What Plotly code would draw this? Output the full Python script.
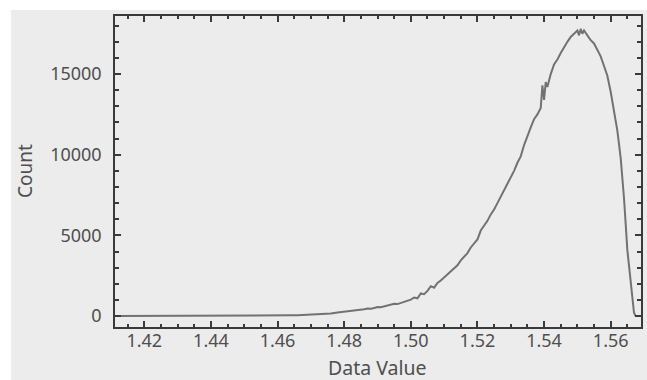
import plotly.graph_objects as go

data_value = [1.4112, 1.420, 1.430, 1.440, 1.450, 1.455, 1.458, 1.460, 1.462, 1.464, 1.466, 1.468,
              1.470, 1.472, 1.474, 1.476, 1.478, 1.479, 1.480, 1.481, 1.482, 1.483, 1.484, 1.485,
              1.486, 1.487, 1.488, 1.489, 1.490, 1.491, 1.492, 1.493, 1.494, 1.495, 1.496, 1.497,
              1.498, 1.499, 1.500, 1.501, 1.502, 1.503, 1.504, 1.505, 1.506, 1.507, 1.508, 1.509,
              1.510, 1.511, 1.512, 1.513, 1.514, 1.515, 1.516, 1.517, 1.518, 1.519, 1.520, 1.521,
              1.522, 1.523, 1.524, 1.525, 1.526, 1.527, 1.528, 1.529, 1.530, 1.531, 1.532, 1.533,
              1.534, 1.535, 1.536, 1.537, 1.538, 1.539, 1.5395, 1.540, 1.5405, 1.541, 1.542, 1.543,
              1.544, 1.545, 1.546, 1.547, 1.548, 1.549, 1.550, 1.5505, 1.551, 1.5515, 1.552, 1.553,
              1.554, 1.555, 1.556, 1.557, 1.558, 1.559, 1.560, 1.561, 1.562, 1.563, 1.564, 1.565,
              1.566, 1.5665, 1.567, 1.5675, 1.5691]
count = [0, 0, 0, 0, 0, 5, 15, 25, 35, 45, 55, 70,
         85, 100, 120, 150, 220, 240, 260, 280, 300, 330, 370, 400,
         420, 460, 450, 500, 560, 540, 600, 620, 700, 760, 740, 820,
         900, 980, 1020, 1150, 1100, 1400, 1350, 1560, 1850, 1760, 2050, 2200,
         2400, 2550, 2800, 3000, 3150, 3450, 3700, 3900, 4250, 4500, 4750, 5300,
         5600, 5900, 6300, 6600, 7000, 7400, 7800, 8300, 8600, 9000, 9500, 9900,
         10600, 11200, 11700, 12200, 12500, 12900, 14300, 13400, 14500, 14200, 15000, 15600,
         15900, 16300, 16700, 17000, 17300, 17500, 17700, 17400, 17800, 17500, 17700, 17400,
         17100, 16900, 16500, 16100, 15500, 14900, 13900, 12800, 11500, 9800, 7300, 4100,
         2000, 1000, 200, 0, 0]

x_title = "Data Value"
y_title = "Count"

W, H = 647, 380
ML, MR, MT, MB = 115, 6, 16, 53
PW, PH = W - ML - MR, H - MT - MB

def px_x(p):
    return (p - ML) / PW

def px_y(p):
    return (H - MB - p) / PH

BG = "#ececec"
FONT = "Noto Sans"
TXT = "#4f4f4f"

fig = go.Figure()
fig.add_trace(go.Scatter(x=data_value, y=count, mode="lines",
                         line=dict(color="#727272", width=2), hoverinfo="skip"))

axis_common = dict(showline=True, linecolor="#3a3a3a", linewidth=1.5, mirror="allticks",
                   ticks="inside", tickcolor="#3a3a3a", tickwidth=1.5, ticklen=6,
                   showgrid=False, zeroline=False,
                   tickfont=dict(family=FONT, size=18, color=TXT))

fig.update_xaxes(range=[1.4112, 1.5691], dtick=0.02, tick0=1.40, tickformat=".2f",
                 minor=dict(dtick=0.005, tick0=1.40, ticks="inside", ticklen=3,
                            tickcolor="#3a3a3a", tickwidth=1.5),
                 ticklabelstandoff=-3, **axis_common)
fig.update_yaxes(range=[-680, 18600], dtick=5000, tick0=0, tickformat="d",
                 minor=dict(dtick=1000, tick0=0, ticks="inside", ticklen=4,
                            tickcolor="#3a3a3a", tickwidth=1.5),
                 ticklabelstandoff=8, **axis_common)

fig.add_shape(type="rect", xref="paper", yref="paper", layer="below",
              x0=px_x(11), x1=px_x(W + 5), y0=px_y(H + 5), y1=px_y(10),
              fillcolor=BG, line=dict(width=0))

fig.add_annotation(text=x_title, xref="paper", yref="paper", x=px_x(377), y=px_y(367),
                   xanchor="center", yanchor="middle", showarrow=False,
                   font=dict(family=FONT, size=19.5, color=TXT))
fig.add_annotation(text=y_title, xref="paper", yref="paper", x=px_x(25), y=px_y(171),
                   xanchor="center", yanchor="middle", showarrow=False, textangle=-90,
                   font=dict(family=FONT, size=19, color=TXT))

fig.update_layout(width=W, height=H, margin=dict(l=ML, r=MR, t=MT, b=MB, autoexpand=False),
                  paper_bgcolor="white", plot_bgcolor=BG, showlegend=False)

fig.write_html("out.html")
